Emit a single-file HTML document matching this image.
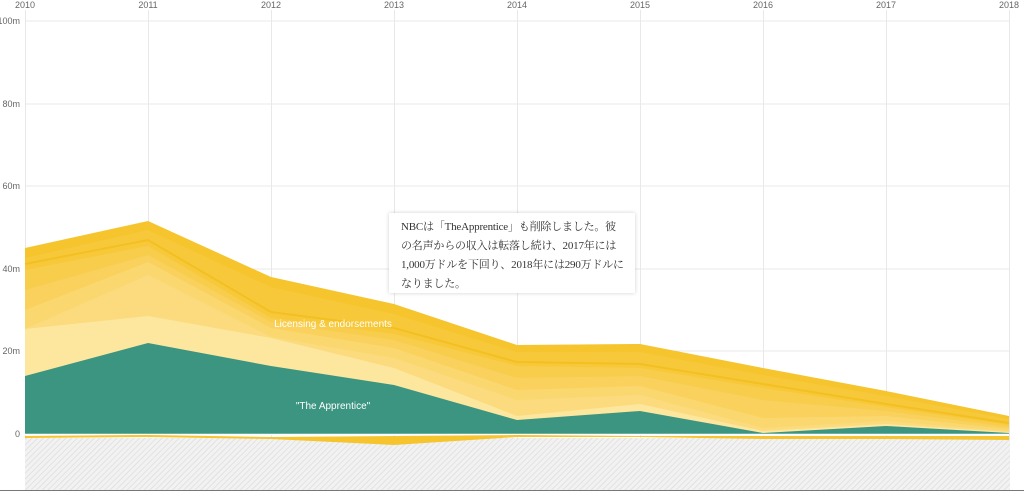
<!DOCTYPE html>
<html><head><meta charset="utf-8"><style>
body{margin:0;background:#fff;width:1024px;height:495px;overflow:hidden;position:relative;font-family:"Liberation Sans",sans-serif}
.box{position:absolute;left:389px;top:213px;width:222px;height:62px;padding:5px 12px 13px 12px;background:#fff;box-shadow:0 0 4px rgba(0,0,0,.18);font-family:"Liberation Serif","Noto Serif CJK SC",serif;font-size:11px;line-height:19px;color:#333;white-space:nowrap;letter-spacing:-0.2px}
</style></head><body>
<svg width="1024" height="495" style="position:absolute;left:0;top:0">
<defs><pattern id="h" width="4" height="4" patternUnits="userSpaceOnUse" patternTransform="rotate(45)"><rect width="4" height="4" fill="#f2f2f2"/><line x1="0" y1="0" x2="0" y2="4" stroke="#ddd" stroke-width="1.5"/></pattern></defs>
<g stroke="#e8e8e8" stroke-width="1">
<line x1="25" y1="21" x2="1009" y2="21"/><line x1="25" y1="104" x2="1009" y2="104"/><line x1="25" y1="186" x2="1009" y2="186"/><line x1="25" y1="269" x2="1009" y2="269"/><line x1="25" y1="351" x2="1009" y2="351"/>
<line x1="25.5" y1="10" x2="25.5" y2="490"/><line x1="148.5" y1="10" x2="148.5" y2="490"/><line x1="271.5" y1="10" x2="271.5" y2="490"/><line x1="394.5" y1="10" x2="394.5" y2="490"/><line x1="517.5" y1="10" x2="517.5" y2="490"/><line x1="640.5" y1="10" x2="640.5" y2="490"/><line x1="763.5" y1="10" x2="763.5" y2="490"/><line x1="886.5" y1="10" x2="886.5" y2="490"/><line x1="1009.5" y1="10" x2="1009.5" y2="490"/>
</g>
<rect x="25" y="438" width="985" height="52" fill="url(#h)"/>
<polygon fill="#f6c42c" points="25,248 148,221 271,277 394,304 517,345 640,344 763,368 886,391 1009,416 1009,434 25,434"/>
<polygon fill="#f7c83a" points="25,258 148,230 271,287 394,314 517,352 640,352 763,375 886,396 1009,419 1009,434 25,434"/>
<polyline fill="none" stroke="#f3c021" stroke-width="2" points="25,264 148,240 271,312 394,328 517,362 640,364 763,384 886,404 1009,423"/>
<polygon fill="#f8cd4c" points="25,270 148,246 271,318 394,334 517,366 640,368 763,388 886,407 1009,425 1009,434 25,434"/>
<polygon fill="#f9d15c" points="25,290 148,255 271,322 394,340 517,378 640,376 763,400 886,411 1009,427 1009,434 25,434"/>
<polygon fill="#fad86f" points="25,310 148,262 271,328 394,348 517,390 640,386 763,418 886,416 1009,429 1009,434 25,434"/>
<polygon fill="#fbdb7e" points="25,329 148,275 271,337 394,358 517,400 640,395 763,428 886,421 1009,431 1009,434 25,434"/>
<polygon fill="#fde79e" points="25,329 148,316 271,338 394,368 517,416 640,404 763,431 886,424 1009,432 1009,434 25,434"/>
<polygon fill="#3b9581" points="25,376 148,343 271,366 394,385 517,420 640,411 763,433 886,426 1009,433 1009,434 25,434"/>
<line x1="25" y1="434.5" x2="1009" y2="434.5" stroke="#fff" stroke-width="1.5"/>
<polygon fill="#f6c42c" points="25,436 148,435 271,437 394,436 517,435 640,436 763,436 886,436 1009,436 1009,440 886,439 763,439 640,437 517,437 394,445 271,439 148,437 25,438"/>
<line x1="0" y1="490.5" x2="1024" y2="490.5" stroke="#777" stroke-width="1"/>
<g font-size="9" fill="#666" text-anchor="middle">
<text x="25" y="8">2010</text><text x="148" y="8">2011</text><text x="271" y="8">2012</text><text x="394" y="8">2013</text><text x="517" y="8">2014</text><text x="640" y="8">2015</text><text x="763" y="8">2016</text><text x="886" y="8">2017</text><text x="1009" y="8">2018</text>
</g>
<g font-size="9" fill="#666" text-anchor="end">
<text x="20" y="24">100m</text><text x="20" y="107">80m</text><text x="20" y="189">60m</text><text x="20" y="272">40m</text><text x="20" y="354">20m</text><text x="20" y="437">0</text>
</g>
<text x="333" y="327" font-size="10" fill="#fff" text-anchor="middle">Licensing &amp; endorsements</text>
<text x="333" y="409" font-size="10" fill="#fff" text-anchor="middle">"The Apprentice"</text>
</svg>
<div class="box">NBCは「TheApprentice」も削除しました。彼<br>の名声からの収入は転落し続け、2017年には<br>1,000万ドルを下回り、2018年には290万ドルに<br>なりました。</div>
</body></html>
